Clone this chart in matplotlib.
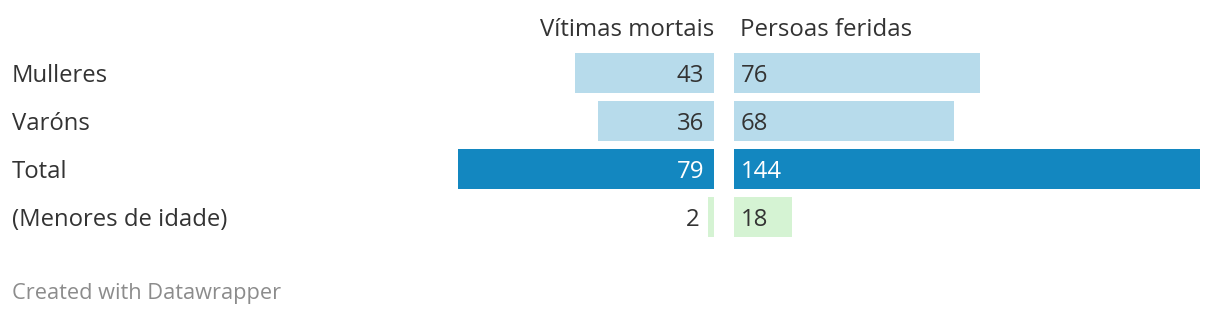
import os
import matplotlib
matplotlib.use("Agg")
import matplotlib.pyplot as plt
from matplotlib import font_manager as fm
from matplotlib.font_manager import FontProperties

categories = ["Mulleres", "Varóns", "Total", "(Menores de idade)"]
deaths = [43, 36, 79, 2]
injured = [76, 68, 144, 18]
headers = ["Vítimas mortais", "Persoas feridas"]
footer = "Created with Datawrapper"

light = "#b7dbeb"
dark = "#1387c0"
green = "#d5f3d3"
colors = [light, light, dark, green]
txt_colors = ["#333333", "#333333", "#ffffff", "#333333"]


def wnum(w):
    if isinstance(w, (int, float)):
        return int(w)
    return {"light": 300, "normal": 400, "regular": 400, "book": 400}.get(str(w).lower(), 700)


def pick_condensed():
    fl = [f for f in fm.fontManager.ttflist if f.style == "normal"]
    tests = [
        lambda f: os.path.basename(f.fname).startswith("NotoSans-SemiCondensed") and wnum(f.weight) == 400,
        lambda f: os.path.basename(f.fname).startswith("NotoSans-Condensed") and wnum(f.weight) == 400,
        lambda f: f.name.startswith("Open Sans") and "Condensed" in f.name and wnum(f.weight) == 300,
    ]
    for tst in tests:
        for f in fl:
            try:
                if tst(f):
                    return f.fname
            except Exception:
                pass
    return None


cpath = pick_condensed()
W, H = 1220, 318
fig = plt.figure(figsize=(W / 100, H / 100), dpi=100)
renderer = fig.canvas.get_renderer()


def cprops(size):
    if cpath:
        return FontProperties(fname=cpath, size=size)
    return FontProperties(family="Open Sans", size=size)


# calibrate condensed size so header width matches ~174 px
t = fig.text(0, 0, headers[0], fontproperties=cprops(18))
wpx = t.get_window_extent(renderer).width
t.remove()
csize = 18 * 174 / wpx if wpx > 0 else 18
csize = max(min(csize, 19.5), 15)

px_per_unit = 466 / 144
top, bottom = 49, 241
ax_h = (bottom - top) / H
ax_y = 1 - bottom / H

lx0, lx1 = 300, 714
axL = fig.add_axes([lx0 / W, ax_y, (lx1 - lx0) / W, ax_h])
axL.set_xlim((lx1 - lx0) / px_per_unit, 0)
rx0, rx1 = 734, 1220
axR = fig.add_axes([rx0 / W, ax_y, (rx1 - rx0) / W, ax_h])
axR.set_xlim(0, (rx1 - rx0) / px_per_unit)

bh = 40 / 48
ys = [i + 0.5 for i in range(len(categories))]
for ax in (axL, axR):
    ax.set_ylim(len(categories), 0)
    ax.axis("off")

axL.barh(ys, deaths, height=bh, color=colors)
axR.barh(ys, injured, height=bh, color=colors)

base_off = 9 / 48  # baseline offset in row units
for y, d, tc in zip(ys, deaths, txt_colors):
    if d * px_per_unit > 40:
        axL.text(10 / px_per_unit, y + base_off, str(d), ha="right", va="baseline",
                 color=tc, fontproperties=cprops(csize))
    else:
        axL.text(d + 8 / px_per_unit, y + base_off, str(d), ha="right", va="baseline",
                 color="#333333", fontproperties=cprops(csize))
for y, v, tc in zip(ys, injured, txt_colors):
    axR.text(7 / px_per_unit, y + base_off, str(v), ha="left", va="baseline",
             color=tc, fontproperties=cprops(csize))

for y, c in zip(ys, categories):
    fy = 1 - (top + y * 48 + 9) / H
    fig.text(12 / W, fy, c, ha="left", va="baseline", fontsize=17.2, color="#333333", family="Open Sans")

fig.text(714 / W, 1 - 36 / H, headers[0], ha="right", va="baseline", color="#333333",
         fontproperties=cprops(csize))
fig.text(740 / W, 1 - 36 / H, headers[1], ha="left", va="baseline", color="#333333",
         fontproperties=cprops(csize))

fig.text(12 / W, 1 - 294 / H, footer, ha="left", va="center", fontsize=15.7, color="#8c8c8c",
         family="Open Sans")

fig.savefig("out.png", dpi=100, facecolor="white")
